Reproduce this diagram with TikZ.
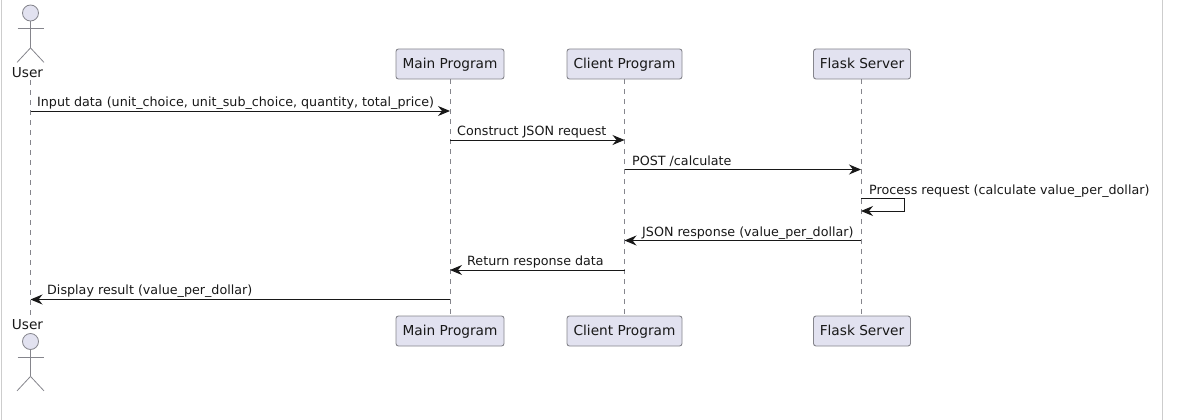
\documentclass[tikz,border=0pt]{standalone}
\usepackage{fontspec}
\setmainfont{DejaVu Sans}
\usetikzlibrary{arrows.meta}
\definecolor{partfill}{HTML}{E2E2F0}
\definecolor{partline}{HTML}{85858C}
\definecolor{pagerule}{HTML}{CDCDCD}
\definecolor{msgink}{HTML}{181818}

\begin{document}
\begin{tikzpicture}[x=1pt,y=-1pt]
	\tikzstyle{part}=[draw=partline,fill=partfill,rounded corners=2.5pt,line width=0.9pt,minimum height=30pt,inner sep=0pt,text height=12pt,text depth=3pt,text=msgink,font=\fontsize{13.7}{16}\selectfont]
	\tikzstyle{life}=[draw=partline,line width=0.8pt,dash pattern=on 5pt off 5pt]
	\tikzstyle{msg}=[draw=msgink,line width=0.95pt,-{Stealth[length=12pt,width=10pt,inset=4pt]}]
	\tikzstyle{lbl}=[anchor=base west,inner sep=0pt,text=msgink,font=\fontsize{12.7}{15}\selectfont]
	\tikzstyle{who}=[anchor=base,inner sep=0pt,text=msgink,font=\fontsize{13.7}{16}\selectfont]
	\tikzstyle{limb}=[draw=partline,line width=0.8pt]
	\tikzstyle{head}=[circle,draw=partline,fill=partfill,line width=0.8pt,minimum size=16pt,inner sep=0pt]

	\useasboundingbox (0,0) rectangle (1183,420);

	\coordinate(leftA) at (1,0);
	\coordinate(leftB) at (1,420);
	\coordinate(rightA) at (1162.5,0);
	\coordinate(rightB) at (1162.5,420);
	\draw[pagerule,line width=1pt] (leftA) -- (leftB);
	\draw[pagerule,line width=1pt] (rightA) -- (rightB);

	\node[who](userTop) at (27.5,77.5){User};
	\node[who](userBot) at (27.5,329){User};
	\coordinate(user) at (30.5,80);
	\coordinate(userEnd) at (30.5,317);

	\node[part,minimum width=108pt](mainTop) at (450,64){Main Program};
	\node[part,minimum width=115pt](clientTop) at (624.5,64){Client Program};
	\node[part,minimum width=97pt](flaskTop) at (862,64){Flask Server};

	\node[part,minimum width=108pt](mainBot) at (450,331){Main Program};
	\node[part,minimum width=115pt](clientBot) at (624.5,331){Client Program};
	\node[part,minimum width=97pt](flaskBot) at (862,331){Flask Server};

	\draw[life] (user) -- (userEnd);
	\draw[life] (mainTop) -- (mainBot);
	\draw[life] (clientTop) -- (clientBot);
	\draw[life] ([xshift=-1pt]flaskTop.south) -- ([xshift=-1pt]flaskBot.north);

	\foreach \y/\n in {13/A,341.5/B}{
		\node[head](head\n) at (30.5,\y){};
		\draw[limb] (head\n.south) -- ++(0,26.5) coordinate(hip\n);
		\draw[limb] ([shift={(-13,7)}]head\n.south) -- ++(26,0);
		\draw[limb] (hip\n) -- ++(-13.5,14.5);
		\draw[limb] (hip\n) -- ++(13.5,14.5);
	}

	\coordinate(mOne) at (0,111);
	\coordinate(mTwo) at (0,140);
	\coordinate(mThree) at (0,169.5);
	\coordinate(mFour) at (0,198.5);
	\coordinate(mFourB) at (0,211);
	\coordinate(mFive) at (0,240.5);
	\coordinate(mSix) at (0,270);
	\coordinate(mSeven) at (0,299.5);
	\coordinate(flask) at (861,0);
	\coordinate(flaskLoop) at (904.5,0);

	\draw[msg] (user |- mOne) -- (mainTop |- mOne);
	\draw[msg] (mainTop |- mTwo) -- (clientTop |- mTwo);
	\draw[msg] (clientTop |- mThree) -- (flask |- mThree);
	\draw[msg] (flask |- mFour) -- (flaskLoop |- mFour) -- (flaskLoop |- mFourB) -- (flask |- mFourB);
	\draw[msg] (flask |- mFive) -- (clientTop |- mFive);
	\draw[msg] (clientTop |- mSix) -- (mainTop |- mSix);
	\draw[msg] (mainTop |- mSeven) -- (user |- mSeven);

	\node[lbl](lblOne) at (37,106){Input data (unit\_choice, unit\_sub\_choice, quantity, total\_price)};
	\node[lbl](lblTwo) at (457,135.5){Construct JSON request};
	\node[lbl](lblThree) at (632,165){POST /calculate};
	\node[lbl](lblFour) at (869,194){Process request (calculate value\_per\_dollar)};
	\node[lbl](lblFive) at (642,236){JSON response (value\_per\_dollar)};
	\node[lbl](lblSix) at (467,265.5){Return response data};
	\node[lbl](lblSeven) at (47,294.5){Display result (value\_per\_dollar)};
\end{tikzpicture}
\end{document}
